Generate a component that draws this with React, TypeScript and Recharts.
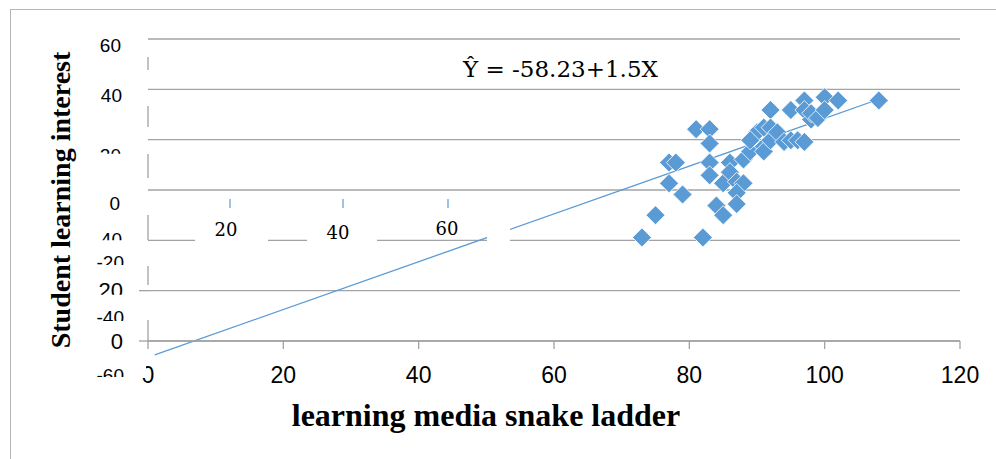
import React from 'react';
import { ScatterChart, Scatter, XAxis, YAxis, CartesianGrid, ReferenceLine } from 'recharts';

// learning media snake ladder (X) vs student learning interest (Y), one entry per student
const xScores = [73, 75, 77, 77, 78, 79, 81, 83, 83, 83, 83, 82, 84, 85, 85, 86, 86, 87, 88, 87, 87, 88, 89, 90, 89, 91, 91, 92, 92, 91, 92, 93, 94, 95, 95, 96, 97, 97, 97, 98, 98, 99, 100, 100, 102, 108];
const yScores = [17, 31, 51, 64, 64, 44, 85, 85, 76, 64, 56, 17, 37, 31, 51, 64, 58, 52, 51, 45, 38, 66, 71, 83, 78, 74, 86, 97, 86, 71, 78, 83, 77, 97, 78, 78, 77, 103, 97, 91, 95, 92, 105, 97, 103, 103];

// regression Ŷ = -58.23 + 1.5X, drawn across this X range
const INTERCEPT = -58.23;
const SLOPE = 1.5;
const trendX = [1, 108];

const xTicks = [0, 20, 40, 60, 80, 100, 120];
const yTicks = [-48, -16.4, 15.2, 46.8, 78.4, 110, 141.6];
// the labels printed on the (garbled) vertical axis, bottom to top
const yTickLabels = ['0', '20', '40', '0', '20', '40', '60'];
const ghostYLabels = ['-20', '-40', '-60'];
const innerXLabels = ['20', '40', '60'];

const BLUE = '#5B9BD5';
const GRID = '#a3a3a3';
const SANS = '"Liberation Sans", Arial, sans-serif';
const SERIF = '"DejaVu Serif", serif';
const TITLE = '"Liberation Serif", "Times New Roman", serif';
const AXIS_X = 148;

const points = xScores.map((x, i) => ({ x, y: yScores[i] }));
const trend = trendX.map((x) => ({ x, y: INTERCEPT + SLOPE * x }));

const yTickStyle = [
  { dy: 0, size: 22, right: 123, tick: true },
  { dy: -1, size: 22, right: 123, cut: 4, tick: true },
  { dy: -1, size: 19, right: 122, cut: 0 },
  { dy: 13, size: 19, right: 120 },
  { dy: 15, size: 19, right: 121, cut: 14 },
  { dy: 6, size: 19, right: 122 },
  { dy: 6, size: 19, right: 121 },
] as { dy: number; size: number; right: number; cut?: number; tick?: boolean }[];

const ghostStyle = [
  { cy: 262, cut: 265 },
  { cy: 317, cut: 321 },
  { cy: 375, cut: 377 },
];
const innerStyle = [
  { cx: 226, base: 236, tick: 230 },
  { cx: 338, base: 239, tick: 343 },
  { cx: 447, base: 235, tick: 448 },
];

const Diamond = (props: any) => {
  const { cx, cy } = props;
  const r = 9.5;
  return (
    <polygon
      points={`${cx},${cy - r} ${cx + r},${cy} ${cx},${cy + r} ${cx - r},${cy}`}
      fill={BLUE}
      stroke="#fff"
      strokeWidth={0.8}
    />
  );
};

const YTick = (props: any) => {
  const { y, index } = props;
  const st = yTickStyle[index];
  if (!st) return null;
  const id = `ycut${index}`;
  const hasCut = st.cut !== undefined;
  return (
    <g>
      {hasCut && (
        <defs>
          <clipPath id={id}>
            <rect x={0} y={0} width={AXIS_X} height={y + (st.cut as number)} />
          </clipPath>
        </defs>
      )}
      <text
        x={st.right}
        y={y + st.dy + st.size * 0.36}
        textAnchor="end"
        fontSize={st.size}
        fontFamily={SANS}
        fill="#000"
        clipPath={hasCut ? `url(#${id})` : undefined}
      >
        {yTickLabels[index]}
      </text>
      {st.tick && <line x1={AXIS_X - 9} x2={AXIS_X} y1={y} y2={y} stroke={GRID} strokeWidth={1.3} />}
    </g>
  );
};

const XTick = (props: any) => {
  const { x, payload, index } = props;
  const clip = index === 0;
  return (
    <g>
      {clip && (
        <defs>
          <clipPath id="xcut0">
            <rect x={146} y={300} width={40} height={120} />
            <rect x={100} y={378} width={80} height={40} />
          </clipPath>
        </defs>
      )}
      <text
        x={x}
        y={383}
        textAnchor="middle"
        fontSize={23}
        fontFamily={SANS}
        fill="#000"
        clipPath={clip ? 'url(#xcut0)' : undefined}
      >
        {payload.value}
      </text>
    </g>
  );
};

export default function App() {
  return (
    <div style={{ position: 'absolute', left: 0, top: 0, width: 996, height: 459, background: '#fff', overflow: 'hidden' }}>
      <div style={{ position: 'absolute', left: 10, top: 9, width: 1000, height: 500, borderLeft: '1px solid #b5b5b5', borderTop: '1px solid #b5b5b5' }} />
      <ScatterChart width={996} height={459} margin={{ top: 39, right: 36, bottom: 78, left: 88 }}>
        <CartesianGrid horizontal vertical={false} stroke={GRID} strokeWidth={1.3} />
        <XAxis
          type="number"
          dataKey="x"
          domain={[0, 120]}
          ticks={xTicks}
          interval={0}
          height={40}
          axisLine={{ stroke: GRID, strokeWidth: 1.3 }}
          tickLine={{ stroke: GRID, strokeWidth: 1.3 }}
          tickSize={8}
          tick={<XTick />}
        />
        <YAxis
          type="number"
          dataKey="y"
          domain={[-48, 141.6]}
          ticks={yTicks}
          interval={0}
          width={60}
          axisLine={{ stroke: GRID, strokeWidth: 1.3, strokeDasharray: '0 18 13 36 21 27 24 37 25 26 19 35 21 100' }}
          tickLine={false}
          tick={<YTick />}
        />
        <ReferenceLine
          segment={trend}
          ifOverflow="visible"
          stroke={BLUE}
          strokeWidth={1.3}
        />
        <Scatter data={points} shape={<Diamond />} isAnimationActive={false} />
      </ScatterChart>
      <svg width={996} height={459} style={{ position: 'absolute', left: 0, top: 0, pointerEvents: 'none' }}>
        <rect x={195} y={234} width={73} height={10} fill="#fff" />
        <rect x={307} y={234} width={70} height={10} fill="#fff" />
        <rect x={487} y={226} width={23} height={20} fill="#fff" />
        {innerXLabels.map((t, i) => (
          <g key={t}>
            <line x1={innerStyle[i].tick} x2={innerStyle[i].tick} y1={199} y2={208} stroke={BLUE} strokeWidth={1.2} />
            <text x={innerStyle[i].cx} y={innerStyle[i].base} textAnchor="middle" fontSize={18} fontFamily={SERIF} fill="#000">
              {t}
            </text>
          </g>
        ))}
        <defs>
          {ghostYLabels.map((t, i) => (
            <clipPath id={`ghost${i}`} key={t}>
              <rect x={0} y={0} width={148} height={ghostStyle[i].cut} />
            </clipPath>
          ))}
        </defs>
        {ghostYLabels.map((t, i) => (
          <text
            key={t}
            x={124}
            y={ghostStyle[i].cy + 7}
            textAnchor="end"
            fontSize={19}
            fontFamily={SANS}
            fill="#000"
            clipPath={`url(#ghost${i})`}
          >
            {t}
          </text>
        ))}
        <text x={463} y={77} fontSize={23} fontFamily={SERIF} fill="#000">
          Ŷ = -58.23+1.5X
        </text>
        <text x={486} y={426} textAnchor="middle" fontSize={32} fontWeight="bold" fontFamily={TITLE} fill="#000">
          learning media snake ladder
        </text>
        <text
          transform="translate(70,200) rotate(-90)"
          textAnchor="middle"
          fontSize={28}
          fontWeight="bold"
          fontFamily={TITLE}
          fill="#000"
        >
          Student learning interest
        </text>
      </svg>
    </div>
  );
}
